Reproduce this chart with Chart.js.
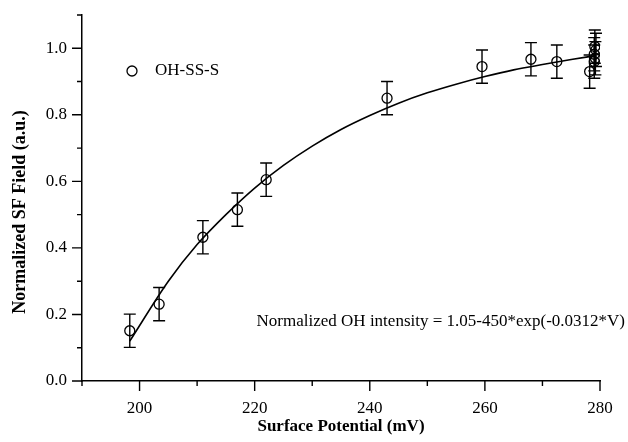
<!DOCTYPE html>
<html>
<head>
<meta charset="utf-8">
<script src="https://cdn.jsdelivr.net/npm/chart.js@4/dist/chart.umd.min.js"></script>
<style>
  html, body { margin: 0; padding: 0; background: #fff; }
  #wrap { width: 628px; height: 442px; }
</style>
</head>
<body>
<div id="wrap"><canvas id="sfChart" width="628" height="442"></canvas></div>
<script>
// measured points (OH-SS-S)
const potential = [198.3, 203.4, 211, 217, 222, 243, 259.5, 268, 272.5, 278.2, 279, 279.2, 279, 279.3, 279.1];
const sfField   = [0.151, 0.231, 0.432, 0.515, 0.605, 0.850, 0.945, 0.967, 0.960, 0.930, 0.960, 0.970, 0.982, 0.995, 1.005];
const sfError   = [0.05, 0.05, 0.05, 0.05, 0.05, 0.05, 0.05, 0.05, 0.05, 0.05, 0.05, 0.05, 0.05, 0.05, 0.05];

// fitted curve
const fitV = [198.3, 205, 210, 215, 220, 225, 230, 235, 240, 245, 250, 255, 260, 265, 270, 275, 279.3];
const fitY = [0.12, 0.30, 0.41, 0.50, 0.58, 0.648, 0.706, 0.756, 0.798, 0.835, 0.866, 0.892, 0.915, 0.935, 0.951, 0.966, 0.978];

const xTicks = [200, 220, 240, 260, 280];
const xMinor = [190, 210, 230, 250, 270];
const yTicks = [0, 0.2, 0.4, 0.6, 0.8, 1.0];
const yMinor = [0.1, 0.3, 0.5, 0.7, 0.9, 1.1];

const seriesName = 'OH-SS-S';
const yTitle = 'Normalized SF Field (a.u.)';
const fitText = 'Normalized OH intensity = 1.05-450*exp(-0.0312*V)';

const serif = "'Liberation Serif', 'Times New Roman', serif";

const extras = {
  id: 'extras',
  afterDatasetsDraw(chart) {
    const ctx = chart.ctx;
    const xs = chart.scales.x, ys = chart.scales.y;
    ctx.save();
    ctx.strokeStyle = '#000';
    ctx.lineWidth = 1.4;
    // error bars
    potential.forEach((v, i) => {
      const px = xs.getPixelForValue(v);
      const top = ys.getPixelForValue(sfField[i] + sfError[i]);
      const bot = ys.getPixelForValue(sfField[i] - sfError[i]);
      ctx.beginPath();
      ctx.moveTo(px, top); ctx.lineTo(px, bot);
      ctx.moveTo(px - 6, top); ctx.lineTo(px + 6, top);
      ctx.moveTo(px - 6, bot); ctx.lineTo(px + 6, bot);
      ctx.stroke();
    });
    // tick marks, outward
    const ax = ys.getPixelForValue(0);
    const ay = xs.getPixelForValue(190);
    ctx.beginPath();
    xTicks.forEach(t => { const p = xs.getPixelForValue(t); ctx.moveTo(p, ax); ctx.lineTo(p, ax + 10); });
    xMinor.forEach(t => { const p = xs.getPixelForValue(t); ctx.moveTo(p, ax); ctx.lineTo(p, ax + 5); });
    yTicks.forEach(t => { const p = ys.getPixelForValue(t); ctx.moveTo(ay, p); ctx.lineTo(ay - 10, p); });
    yMinor.forEach(t => { const p = ys.getPixelForValue(t); ctx.moveTo(ay, p); ctx.lineTo(ay - 5, p); });
    ctx.stroke();
    // legend
    ctx.beginPath();
    ctx.arc(132, 71, 5, 0, Math.PI * 2);
    ctx.lineWidth = 1.3;
    ctx.stroke();
    ctx.fillStyle = '#000';
    ctx.font = '17px ' + serif;
    ctx.textBaseline = 'middle';
    ctx.textAlign = 'left';
    ctx.fillText(seriesName, 155, 71);
    // fit equation
    ctx.textAlign = 'right';
    ctx.fillText(fitText, 625, 322);
    // y axis title
    ctx.save();
    ctx.translate(20, 212);
    ctx.rotate(-Math.PI / 2);
    ctx.textAlign = 'center';
    ctx.font = 'bold 18px ' + serif;
    ctx.fillText(yTitle, 0, 0);
    ctx.restore();
    ctx.restore();
  }
};

new Chart(document.getElementById('sfChart').getContext('2d'), {
  type: 'scatter',
  data: {
    datasets: [{
      label: seriesName,
      data: potential.map((v, i) => ({ x: v, y: sfField[i] })),
      pointStyle: 'circle',
      pointRadius: 5,
      backgroundColor: 'rgba(0,0,0,0)',
      borderColor: '#000',
      borderWidth: 1.3,
      order: 1
    }, {
      label: 'fit',
      data: fitV.map((v, i) => ({ x: v, y: fitY[i] })),
      showLine: true,
      pointRadius: 0,
      borderColor: '#000',
      borderWidth: 1.6,
      cubicInterpolationMode: 'monotone',
      order: 2
    }]
  },
  options: {
    responsive: false,
    animation: false,
    layout: { padding: { top: 15, right: 28, left: 0, bottom: 0 } },
    plugins: { legend: { display: false }, tooltip: { enabled: false } },
    scales: {
      x: {
        type: 'linear', min: 190, max: 280,
        afterBuildTicks: s => { s.ticks = xTicks.map(v => ({ value: v })); },
        afterFit: s => { s.height = 61; s.paddingLeft = 0; s.paddingRight = 0; },
        grid: { display: false, drawTicks: false },
        border: { display: true, color: '#000', width: 1.5 },
        ticks: { color: '#000', padding: 17, font: { family: serif, size: 17 }, maxRotation: 0 },
        title: { display: true, text: 'Surface Potential (mV)', color: '#000', font: { family: serif, size: 17, weight: 'bold' }, padding: { top: 0, bottom: 5 } }
      },
      y: {
        min: 0, max: 1.1,
        afterBuildTicks: s => { s.ticks = yTicks.map(v => ({ value: v })); },
        afterFit: s => { s.width = 82; s.paddingTop = 0; s.paddingBottom = 0; },
        grid: { display: false, drawTicks: false },
        border: { display: true, color: '#000', width: 1.5 },
        ticks: { color: '#000', padding: 15, font: { family: serif, size: 17 }, callback: v => v.toFixed(1) },
        title: { display: false }
      }
    }
  },
  plugins: [extras]
});
</script>
</body>
</html>
